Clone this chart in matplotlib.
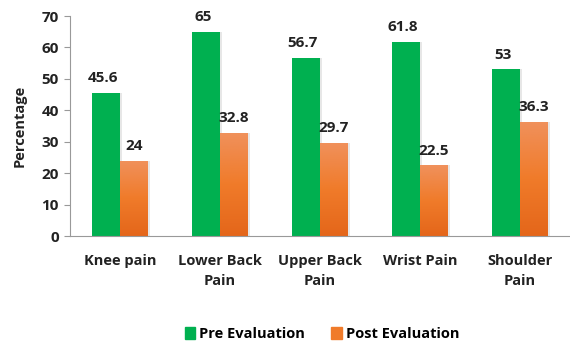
import numpy as np
import matplotlib.pyplot as plt
from matplotlib.patches import Patch
from matplotlib.colors import LinearSegmentedColormap

categories = ['Knee pain', 'Lower Back\nPain', 'Upper Back\nPain', 'Wrist Pain', 'Shoulder\nPain']
pre_eval = [45.6, 65, 56.7, 61.8, 53]
post_eval = [24, 32.8, 29.7, 22.5, 36.3]
pre_labels = ['45.6', '65', '56.7', '61.8', '53']
post_labels = ['24', '32.8', '29.7', '22.5', '36.3']

plt.rcParams['font.family'] = ['Open Sans', 'DejaVu Sans']
plt.rcParams['font.weight'] = 'bold'

green = '#00B050'
orange_cmap = LinearSegmentedColormap.from_list('orng', ['#E4661A', '#F07B2A', '#F0915C'])

fig = plt.figure(figsize=(5.7, 3.44), dpi=100)
ax = fig.add_axes([70 / 570, 108 / 344, 500 / 570, 220 / 344])

x = np.arange(len(categories))
w = 0.28

shadow_kw = dict(color='#bbbbbb', alpha=0.35, zorder=1)
ax.bar(x - w / 2 + 0.02, pre_eval, w, **shadow_kw)
ax.bar(x + w / 2 + 0.02, post_eval, w, **shadow_kw)
ax.bar(x - w / 2, pre_eval, w, color=green, zorder=2)
post_bars = ax.bar(x + w / 2, post_eval, w, color='none', zorder=2)

# gradient fill for the post-evaluation bars
grad = np.linspace(0, 1, 256).reshape(-1, 1)
for b in post_bars:
    x0, y0 = b.get_x(), b.get_y()
    x1, y1 = x0 + b.get_width(), y0 + b.get_height()
    im = ax.imshow(grad, cmap=orange_cmap, extent=[x0, x1, y0, y1],
                   origin='lower', aspect='auto', zorder=2)
    im.set_clip_path(b)

for i in range(len(categories)):
    ax.text(x[i] - w / 2 - 0.03, pre_eval[i] + 2.4, pre_labels[i],
            ha='center', va='bottom', fontsize=11, color='#222222')
    ax.text(x[i] + w / 2, post_eval[i] + 2.4, post_labels[i],
            ha='center', va='bottom', fontsize=11, color='#222222')

ax.set_xlim(-0.5, 4.5)
ax.set_ylim(0, 70)
ax.set_yticks(range(0, 71, 10))
ax.set_xticks(x)
ax.set_xticklabels(categories, fontsize=10.5, color='#222222', linespacing=1.55)
ax.tick_params(axis='x', length=0, pad=13)
ax.tick_params(axis='y', length=4, color='#999999', labelsize=11, labelcolor='#222222', pad=4)
ax.set_ylabel('Percentage', fontsize=10.5, fontweight='bold', labelpad=11, color='#222222')

for s in ['top', 'right']:
    ax.spines[s].set_visible(False)
ax.spines['left'].set_color('#999999')
ax.spines['bottom'].set_color('#999999')

handles = [Patch(color=green, label='Pre Evaluation'),
           Patch(color='#F07B2A', label='Post Evaluation')]
fig.legend(handles=handles, loc='center', bbox_to_anchor=(322 / 570, 1 - 334 / 344),
           ncol=2, frameon=False, fontsize=10.5, handlelength=0.7, handleheight=0.9,
           handletextpad=0.3, columnspacing=1.8)

fig.savefig('out.png', dpi=100)
